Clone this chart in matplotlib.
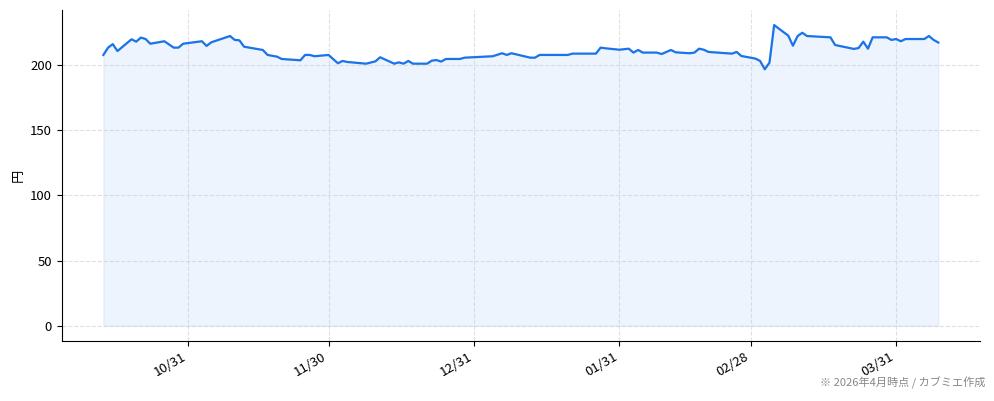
import matplotlib
matplotlib.use("Agg")
import matplotlib.pyplot as plt
import matplotlib.dates as mdates
import pandas as pd

plt.rcParams['font.family'] = ['Noto Sans CJK JP', 'DejaVu Sans']

# 株価の推移 (読み取り値)
dates = [
    "2025-10-13", "2025-10-14", "2025-10-15", "2025-10-16", "2025-10-19",
    "2025-10-20", "2025-10-21", "2025-10-22", "2025-10-23", "2025-10-26",
    "2025-10-28", "2025-10-29", "2025-10-30", "2025-11-03", "2025-11-04",
    "2025-11-05", "2025-11-09", "2025-11-10", "2025-11-11", "2025-11-12",
    "2025-11-16", "2025-11-17", "2025-11-19", "2025-11-20", "2025-11-24",
    "2025-11-25", "2025-11-26", "2025-11-27", "2025-11-30", "2025-12-02",
    "2025-12-03", "2025-12-04", "2025-12-08", "2025-12-10", "2025-12-11",
    "2025-12-14", "2025-12-15", "2025-12-16", "2025-12-17", "2025-12-18",
    "2025-12-21", "2025-12-22", "2025-12-23", "2025-12-24", "2025-12-25",
    "2025-12-28", "2025-12-29", "2026-01-04", "2026-01-06", "2026-01-07",
    "2026-01-08", "2026-01-12", "2026-01-13", "2026-01-14", "2026-01-20",
    "2026-01-21", "2026-01-26", "2026-01-27", "2026-01-28", "2026-01-31",
    "2026-02-02", "2026-02-03", "2026-02-04", "2026-02-05", "2026-02-08",
    "2026-02-09", "2026-02-11", "2026-02-12", "2026-02-15", "2026-02-16",
    "2026-02-17", "2026-02-18", "2026-02-19", "2026-02-24", "2026-02-25",
    "2026-02-26", "2026-03-01", "2026-03-02", "2026-03-03", "2026-03-04",
    "2026-03-05", "2026-03-08", "2026-03-09", "2026-03-10", "2026-03-11",
    "2026-03-12", "2026-03-17", "2026-03-18", "2026-03-22", "2026-03-23",
    "2026-03-24", "2026-03-25", "2026-03-26", "2026-03-29", "2026-03-30",
    "2026-03-31", "2026-04-01", "2026-04-02", "2026-04-06", "2026-04-07",
    "2026-04-08", "2026-04-09",
]
prices = [
    207.7, 213.3, 216.0, 210.7, 219.7,
    217.9, 221.0, 219.9, 216.3, 218.2,
    213.3, 213.3, 216.3, 218.2, 214.6,
    217.4, 222.2, 219.2, 218.9, 214.0,
    211.5, 207.7, 206.4, 204.6, 203.6,
    207.7, 207.7, 206.7, 207.7, 201.3,
    203.1, 202.3, 201.0, 202.8, 205.9,
    201.0, 202.0, 201.0, 203.1, 201.0,
    201.0, 203.3, 203.8, 202.6, 204.6,
    204.6, 205.6, 206.7, 209.0, 207.7,
    209.0, 205.6, 205.6, 207.7, 207.7,
    208.7, 208.7, 213.3, 212.8, 211.7,
    212.5, 209.5, 211.5, 209.5, 209.5,
    208.4, 211.5, 209.7, 209.0, 209.5,
    212.5, 211.7, 210.0, 208.7, 210.0,
    206.9, 204.9, 203.1, 196.7, 201.8,
    230.6, 222.5, 214.8, 222.2, 224.7,
    222.2, 221.2, 215.3, 212.3, 213.0,
    217.9, 212.5, 221.2, 221.2, 219.2,
    219.9, 218.2, 219.9, 219.9, 222.2,
    219.2, 217.2,
]
tick_dates = ["2025-10-31", "2025-11-30", "2025-12-31",
              "2026-01-31", "2026-02-28", "2026-03-31"]

x = pd.to_datetime(dates)
line_color = '#1a73e8'

fig, ax = plt.subplots(figsize=(9.94, 4.01), dpi=100)
ax.plot(x, prices, color=line_color, linewidth=1.6)
ax.fill_between(x, prices, 0, color=line_color, alpha=0.08)

ax.set_ylabel('円', fontsize=9.5)
ax.set_xticks(pd.to_datetime(tick_dates))
ax.xaxis.set_major_formatter(mdates.DateFormatter('%m/%d'))
ax.grid(True, linestyle='--', color='#cccccc', alpha=0.6, linewidth=0.8)
ax.spines['top'].set_visible(False)
ax.spines['right'].set_visible(False)
ax.tick_params(labelsize=9.5)
fig.autofmt_xdate()

fig.subplots_adjust(left=0.062, right=0.986, top=0.975, bottom=0.15)
fig.text(0.991, 0.03, '※ 2026年4月時点 / カブミエ作成', ha='right', va='bottom',
         fontsize=8, color='#888888')

fig.savefig('out.png', dpi=100)
